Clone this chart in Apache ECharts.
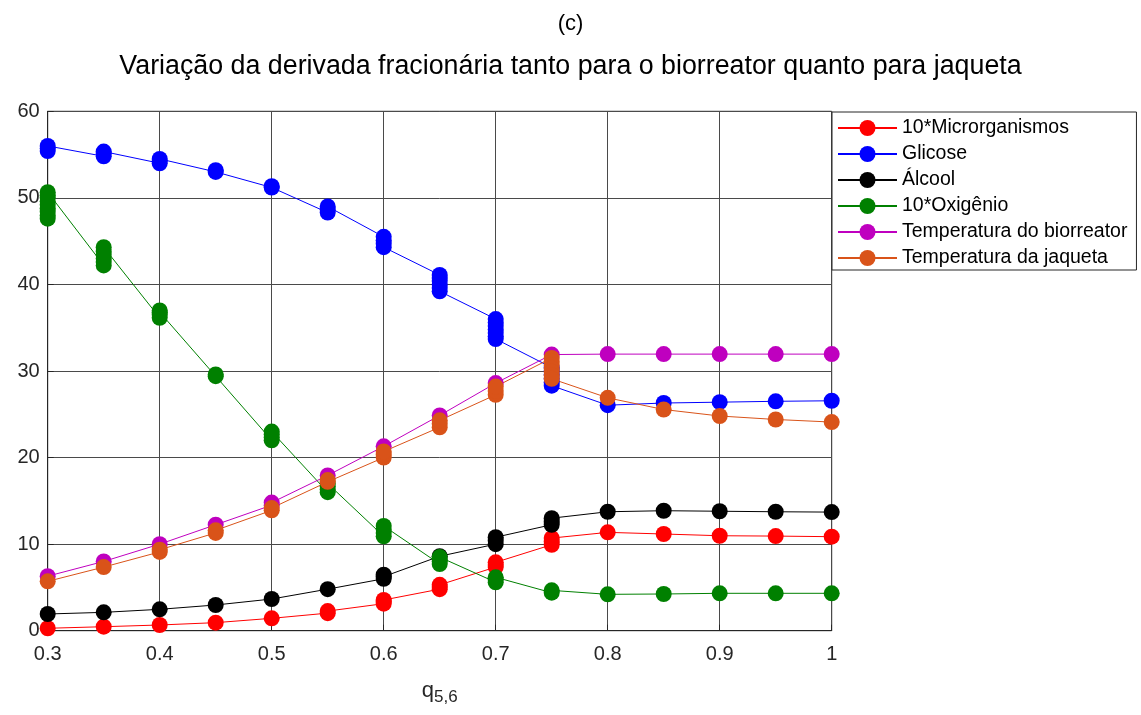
<!DOCTYPE html>
<html>
<head>
<meta charset="utf-8">
<script src="https://cdn.jsdelivr.net/npm/echarts@6/dist/echarts.min.js"></script>
<style>
html,body{margin:0;padding:0;background:#fff;}
#c{width:1141px;height:715px;}
</style>
</head>
<body>
<div id="c"></div>
<script>
// x positions (fractional order q5,6)
const xs = [0.3, 0.35, 0.4, 0.45, 0.5, 0.55, 0.6, 0.65, 0.7, 0.75, 0.8, 0.85, 0.9, 0.95, 1.0];
const seriesNames = ['10*Microrganismos', 'Glicose', 'Álcool', '10*Oxigênio', 'Temperatura do biorreator', 'Temperatura da jaqueta'];

// each entry: the values plotted at the matching x (several runs overlap in a cluster)
const microrganismos = [[0.28],[0.46],[0.66],[0.93],[1.43],[2.03,2.27],[3.12,3.35,3.55],[4.8,5.05,5.3],[7.35,7.6,7.9],[9.93,10.3,10.7],[11.36],[11.17],[10.97],[10.93],[10.86]];
const glicose = [[55.4,55.7,56.0],[54.8,55.1,55.35],[54.0,54.25,54.5],[53.0,53.2],[51.2,51.35],[48.3,48.65,49.0],[45.5,45.1,44.7,44.3],[41.1,40.75,40.4,40.0,39.6,39.2],[36.0,35.6,35.2,34.8,34.4,34.0,33.7],[30.4,30.0,29.6,29.1,28.7,28.3],[26.05],[26.3],[26.4],[26.5],[26.56]];
const alcool = [[1.93],[2.12],[2.47],[2.97],[3.66],[4.8],[6.0,6.25,6.47],[8.6],[10.0,10.4,10.8],[12.24,12.6,13.0],[13.74],[13.86],[13.8],[13.74],[13.7]];
const oxigenio = [[47.6,48.0,48.4,48.8,49.2,49.6,50.0,50.3,50.66],[42.2,42.6,43.0,43.4,43.8,44.3],[36.14,36.5,36.8,37.0],[29.4,29.6],[22.0,22.35,22.7,23.0],[16.0,16.35,16.7,17.0],[10.9,11.3,11.7,12.1],[7.7,8.0,8.25,8.5],[5.6,5.9,6.17],[4.39,4.66],[4.2],[4.24],[4.32],[4.32],[4.32]];
const tempBiorreator = [[6.3],[8.0],[10.0],[12.24],[14.5,14.8],[17.94],[21.3],[24.87],[28.6],[31.9],[31.95],[31.95],[31.95],[31.95],[31.95]];
const tempJaqueta = [[5.7],[7.35],[9.1,9.35],[11.3,11.6],[13.9,14.17],[17.2,17.4],[20.0,20.35,20.7],[23.5,23.9,24.3],[27.25,27.7,28.2],[31.5,31.1,30.7,30.3,29.9,29.5,29.1],[26.9],[25.55],[24.8],[24.4],[24.1]];

const colors = ['#FF0000', '#0000FF', '#000000', '#008000', '#BF00BF', '#D95319'];
const allValues = [microrganismos, glicose, alcool, oxigenio, tempBiorreator, tempJaqueta];

function toPoints(clusters) {
  const pts = [];
  clusters.forEach((vals, i) => vals.forEach(v => pts.push([xs[i], v])));
  return pts;
}

const FONT = "'Liberation Sans', Arial, sans-serif";
const chart = echarts.init(document.getElementById('c'), null, {renderer: 'canvas'});
chart.setOption({
  animation: false,
  backgroundColor: '#ffffff',
  title: [
    {text: '(c)', left: 'center', top: 8, textStyle: {fontFamily: FONT, fontSize: 22, fontWeight: 'normal', color: '#000'}},
    {text: 'Variação da derivada fracionária tanto para o biorreator quanto para jaqueta', left: 'center', top: 48, textStyle: {fontFamily: FONT, fontSize: 26.8, fontWeight: 'normal', color: '#000'}}
  ],
  grid: {left: 47.7, right: 309.3, top: 111.3, bottom: 84.3, show: true, borderColor: '#262626', borderWidth: 1, containLabel: false},
  legend: {
    orient: 'vertical', left: 832, top: 112,
    itemWidth: 59, itemHeight: 20, itemGap: 6,
    padding: [6, 9, 2, 5],
    borderColor: '#262626', borderWidth: 1, backgroundColor: '#fff',
    textStyle: {fontFamily: FONT, fontSize: 19.5, color: '#000'},
    data: seriesNames
  },
  xAxis: {
    type: 'value', min: 0.3, max: 1, interval: 0.1,
    name: '{q|q}{s|5,6}', nameLocation: 'middle', nameGap: 46,
    nameTextStyle: {rich: {q: {fontFamily: FONT, fontSize: 22, color: '#262626'}, s: {fontFamily: FONT, fontSize: 17, color: '#262626', verticalAlign: 'bottom', padding: [12, 0, 0, 0]}}},
    axisLine: {show: true, lineStyle: {color: '#262626'}},
    axisTick: {show: true, inside: true, length: 6, lineStyle: {color: '#262626'}},
    axisLabel: {fontFamily: FONT, fontSize: 20, color: '#262626', margin: 14, formatter: v => String(+(+v).toFixed(2))},
    splitLine: {show: true, lineStyle: {color: '#4a4a4a', width: 1}}
  },
  yAxis: {
    type: 'value', min: 0, max: 60, interval: 10,
    axisLine: {show: true, lineStyle: {color: '#262626'}},
    axisTick: {show: true, inside: true, length: 6, lineStyle: {color: '#262626'}},
    axisLabel: {fontFamily: FONT, fontSize: 20, color: '#262626', margin: 8},
    splitLine: {show: true, lineStyle: {color: '#4a4a4a', width: 1}}
  },
  series: seriesNames.map((name, i) => ({
    name: name,
    type: 'line',
    data: toPoints(allValues[i]),
    symbol: 'circle',
    symbolSize: 16,
    showAllSymbol: true,
    color: colors[i],
    lineStyle: {width: 1, color: colors[i]},
    itemStyle: {color: colors[i]},
    emphasis: {disabled: true}
  }))
});
</script>
</body>
</html>
